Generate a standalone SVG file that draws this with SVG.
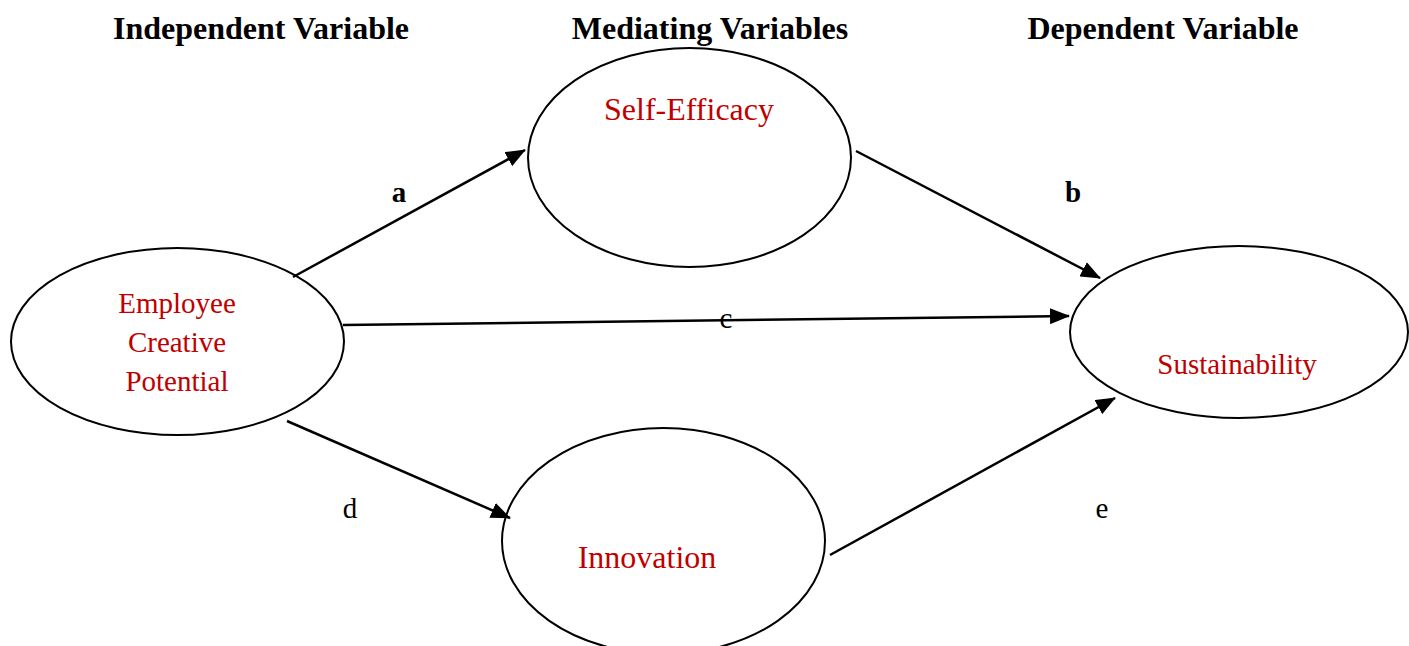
<svg xmlns="http://www.w3.org/2000/svg" width="1409" height="646" viewBox="0 0 1409 646">
<style>
.node{fill:#fff;stroke:#000;stroke-width:2}
.lbl{font-family:"Liberation Serif","Times New Roman",serif;fill:#c00000;text-anchor:middle}
.hdr{font-family:"Liberation Serif","Times New Roman",serif;font-weight:bold;font-size:32px;fill:#000;text-anchor:middle}
.el{font-family:"Liberation Serif","Times New Roman",serif;font-size:29px;fill:#000;text-anchor:middle}
.conn{stroke:#000;stroke-width:2.5;fill:none;marker-end:url(#ah)}
</style>
<defs>
<marker id="ah" markerUnits="userSpaceOnUse" markerWidth="20" markerHeight="16" viewBox="0 0 20 16" refX="19" refY="8" orient="auto">
<path d="M0,0 L20,8 L0,16 Z" fill="#000"/>
</marker>
</defs>
<rect width="1409" height="646" fill="#fff"/>
<g id="headers">
<text class="hdr" x="261" y="39">Independent Variable</text>
<text class="hdr" x="710" y="39">Mediating Variables</text>
<text class="hdr" x="1163" y="39">Dependent Variable</text>
</g>
<g id="node-employee">
<ellipse class="node" cx="177.5" cy="341.5" rx="166.5" ry="93.5"/>
<text class="lbl" font-size="29" x="177" y="313">Employee</text>
<text class="lbl" font-size="29" x="177" y="352">Creative</text>
<text class="lbl" font-size="29" x="177" y="391">Potential</text>
</g>
<g id="node-selfefficacy">
<ellipse class="node" cx="689.5" cy="157.5" rx="161.5" ry="109.5"/>
<text class="lbl" font-size="32" x="689" y="120">Self-Efficacy</text>
</g>
<g id="node-sustainability">
<ellipse class="node" cx="1239" cy="332" rx="169" ry="86"/>
<text class="lbl" font-size="29" x="1237" y="374">Sustainability</text>
</g>
<g id="node-innovation">
<ellipse class="node" cx="663.5" cy="541" rx="161.5" ry="113"/>
<text class="lbl" font-size="32" x="647" y="568">Innovation</text>
</g>
<g id="connectors">
<line class="conn" x1="293" y1="277" x2="525" y2="150"/>
<line class="conn" x1="856" y1="151" x2="1100" y2="278"/>
<line class="conn" x1="343" y1="325" x2="1069" y2="316"/>
<line class="conn" x1="287" y1="421" x2="510" y2="518"/>
<line class="conn" x1="830" y1="555" x2="1115" y2="398"/>
</g>
<g id="edge-labels">
<text class="el" font-weight="bold" x="399" y="202">a</text>
<text class="el" font-weight="bold" x="1073" y="202">b</text>
<text class="el" x="726" y="328">c</text>
<text class="el" x="350" y="518">d</text>
<text class="el" x="1102" y="518">e</text>
</g>
</svg>
